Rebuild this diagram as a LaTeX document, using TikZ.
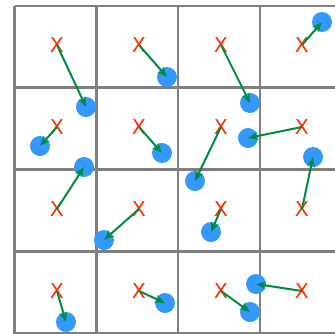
\documentclass[tikz,border=0pt]{standalone}
\usepackage{fontspec}
\setmainfont{DejaVu Sans}
\usetikzlibrary{arrows.meta}
\definecolor{gridgray}{RGB}{128,128,128}
\definecolor{xred}{RGB}{255,45,0}
\definecolor{dotblue}{RGB}{51,153,255}
\definecolor{arrgreen}{RGB}{0,140,62}
\tikzset{
  gridline/.style={draw=gridgray, line width=2.7pt},
  xmark/.style={text=xred, font=\fontsize{20.5}{20.5}\selectfont, inner sep=0pt},
  dot/.style={circle, fill=dotblue, minimum size=20pt, inner sep=0pt},
  movearrow/.style={draw=arrgreen, line width=2pt, -{Stealth[length=10pt,width=8pt]}}
}
\begin{document}
\begin{tikzpicture}[x=1pt,y=-1pt]
\useasboundingbox (0,0) rectangle (335,333);
\clip (0,0) rectangle (335,333);
% grid
\foreach \gx in {14.5,96.3,178.1,259.9,341.7} \draw[gridline] (\gx,6) -- (\gx,340);
\foreach \gy in {6,87.8,169.6,251.4,333.2} \draw[gridline] (14.5,\gy) -- (345,\gy);
% X marks
\foreach \r/\yy in {1/45,2/127,3/209,4/291}{
  \foreach \c/\xx in {1/57,2/139,3/221,4/302}{
    \node[xmark] (x\r\c) at (\xx,\yy) {X};
  }
}
% dots
\node[dot] (d11) at (86,107) {};
\node[dot] (d12) at (167,77) {};
\node[dot] (d13) at (250,103) {};
\node[dot] (d14) at (322,22) {};
\node[dot] (d21) at (40,146) {};
\node[dot] (d22) at (162,153) {};
\node[dot] (d23) at (195,181) {};
\node[dot] (d24) at (248,138) {};
\node[dot] (d31) at (84,167) {};
\node[dot] (d32) at (104,240) {};
\node[dot] (d33) at (211,232) {};
\node[dot] (d34) at (313,157) {};
\node[dot] (d41) at (66,322) {};
\node[dot] (d42) at (165,303) {};
\node[dot] (d43) at (250,312) {};
\node[dot] (d44) at (256,284) {};
% arrows
\foreach \r in {1,2,3,4}{
  \foreach \c in {1,2,3,4}{
    \draw[movearrow] (x\r\c.center) -- (d\r\c.center);
  }
}
\end{tikzpicture}
\end{document}
